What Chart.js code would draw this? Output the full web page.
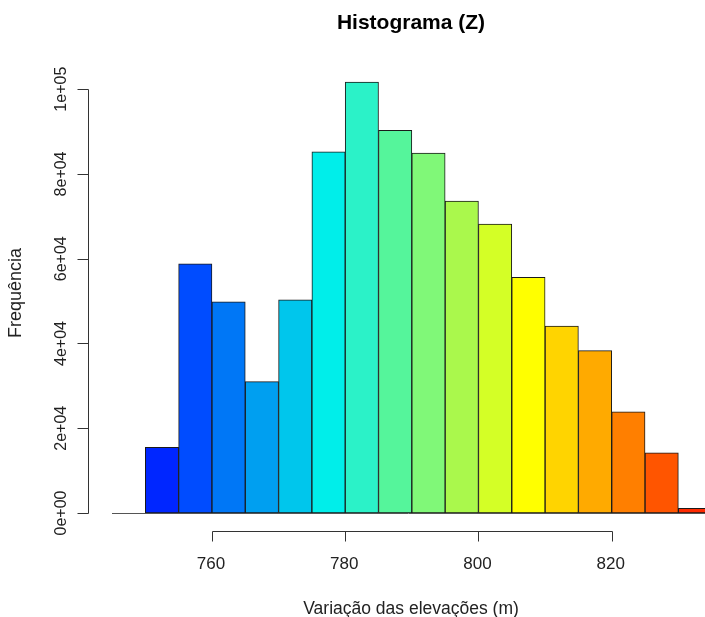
<!DOCTYPE html>
<html>
<head>
<meta charset="utf-8">
<script src="https://cdn.jsdelivr.net/npm/chart.js@4.4.0/dist/chart.umd.min.js"></script>
<style>
  body { margin: 0; background: #fff; }
  #wrap { width: 705px; height: 617px; }
</style>
</head>
<body>
<div id="wrap"><canvas id="histChart" width="705" height="617"></canvas></div>
<script>
// histogram bins (5 m wide) and counts
const binStarts = [750, 755, 760, 765, 770, 775, 780, 785, 790, 795, 800, 805, 810, 815, 820, 825, 830];
const binWidth = 5;
const counts = [15500, 58800, 49800, 31000, 50300, 85200, 101700, 90300, 84900, 73600, 68200, 55600, 44100, 38300, 23900, 14200, 1100];
const barColors = ['#0026FF', '#004CFF', '#0077F6', '#009FF0', '#00C6EC', '#00EEEA', '#2BF2C8', '#55F59B',
                   '#80F878', '#AAF84C', '#D4FF26', '#FFFF00', '#FFD400', '#FFAA00', '#FF7F00', '#FF5500', '#FF2A00'];

const xTicks = [760, 780, 800, 820];
const yTicks = [0, 20000, 40000, 60000, 80000, 100000];
const yTickLabels = ['0e+00', '2e+04', '4e+04', '6e+04', '8e+04', '1e+05'];

const titleText = 'Histograma (Z)';
const xTitle = 'Variação das elevações (m)';
const yTitle = 'Frequência';

const FONT = '"Liberation Sans", Arial, sans-serif';

// R-style detached axes, drawn from the chart's own scales
const rAxes = {
    id: 'rAxes',
    beforeDatasetsDraw(chart) {
        const ctx = chart.ctx;
        const y0 = chart.scales.y.getPixelForValue(0);
        ctx.save();
        ctx.strokeStyle = '#555';
        ctx.lineWidth = 1;
        ctx.beginPath();
        ctx.moveTo(chart.chartArea.left, Math.round(y0) + 0.5);
        ctx.lineTo(chart.width, Math.round(y0) + 0.5);
        ctx.stroke();
        ctx.restore();
    },
    afterDraw(chart) {
        const ctx = chart.ctx;
        const xs = chart.scales.x;
        const ys = chart.scales.y;
        const area = chart.chartArea;
        ctx.save();
        ctx.strokeStyle = '#333';
        ctx.fillStyle = '#222';
        ctx.lineWidth = 1;

        // y axis
        const ax = area.left - 24 + 0.5;
        ctx.beginPath();
        ctx.moveTo(ax, Math.round(ys.getPixelForValue(yTicks[0])) + 0.5);
        ctx.lineTo(ax, Math.round(ys.getPixelForValue(yTicks[yTicks.length - 1])) + 0.5);
        yTicks.forEach(v => {
            const py = Math.round(ys.getPixelForValue(v)) + 0.5;
            ctx.moveTo(ax, py);
            ctx.lineTo(ax - 11, py);
        });
        ctx.stroke();
        ctx.font = '16px ' + FONT;
        ctx.textAlign = 'center';
        ctx.textBaseline = 'alphabetic';
        yTicks.forEach((v, i) => {
            const py = ys.getPixelForValue(v);
            ctx.save();
            ctx.translate(ax - 23, py);
            ctx.rotate(-Math.PI / 2);
            ctx.fillText(yTickLabels[i], 0, 0);
            ctx.restore();
        });

        // x axis
        const ay = Math.round(ys.getPixelForValue(0)) + 18 + 0.5;
        ctx.beginPath();
        ctx.moveTo(Math.round(xs.getPixelForValue(xTicks[0])) + 0.5, ay);
        ctx.lineTo(Math.round(xs.getPixelForValue(xTicks[xTicks.length - 1])) + 0.5, ay);
        xTicks.forEach(v => {
            const px = Math.round(xs.getPixelForValue(v)) + 0.5;
            ctx.moveTo(px, ay);
            ctx.lineTo(px, ay + 10);
        });
        ctx.stroke();
        ctx.font = '17px ' + FONT;
        xTicks.forEach(v => {
            ctx.fillText(String(v), xs.getPixelForValue(v) - 1, ay + 37);
        });

        // titles
        ctx.fillStyle = '#222';
        ctx.font = '17.5px ' + FONT;
        ctx.fillText(xTitle, 411, 614);
        ctx.save();
        ctx.translate(21, 293);
        ctx.rotate(-Math.PI / 2);
        ctx.font = '18px ' + FONT;
        ctx.fillText(yTitle, 0, 0);
        ctx.restore();

        ctx.fillStyle = '#000';
        ctx.font = 'bold 21px ' + FONT;
        ctx.fillText(titleText, 411, 29);
        ctx.restore();
    }
};

const ctx = document.getElementById('histChart').getContext('2d');
const myChart = new Chart(ctx, {
    type: 'bar',
    data: {
        datasets: [{
            data: binStarts.map((b, i) => ({ x: b + binWidth / 2, y: counts[i] })),
            backgroundColor: barColors,
            borderColor: '#1a1a1a',
            borderWidth: 1,
            borderSkipped: false,
            barPercentage: 1.0,
            categoryPercentage: 1.0
        }]
    },
    options: {
        responsive: false,
        devicePixelRatio: 1,
        animation: false,
        layout: { padding: { left: 112, right: 0, top: 68, bottom: 104 } },
        plugins: { legend: { display: false }, tooltip: { enabled: false }, title: { display: false } },
        scales: {
            x: { type: 'linear', min: 745, max: 834, offset: false, display: false },
            y: { min: 0, max: 105000, display: false }
        }
    },
    plugins: [rAxes]
});
</script>
</body>
</html>
